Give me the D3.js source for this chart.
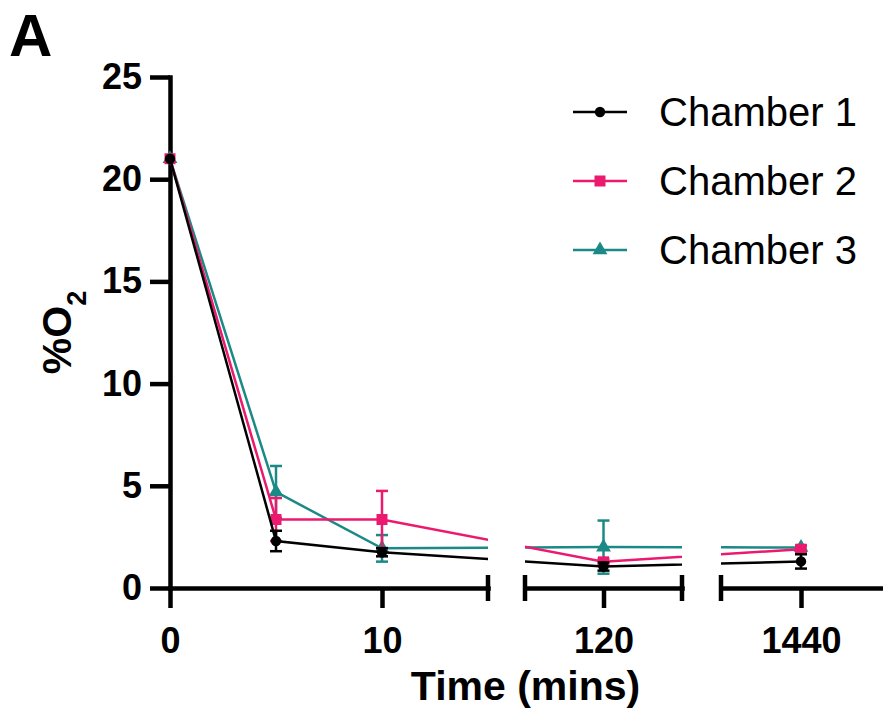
<!DOCTYPE html>
<html>
<head>
<meta charset="utf-8">
<script src="https://cdn.jsdelivr.net/npm/d3@7"></script>
<style>
  body { margin: 0; background: #fff; }
  svg text { font-family: "Liberation Sans", Arial, sans-serif; }
</style>
</head>
<body>
<svg id="chart" width="883" height="718"></svg>
<script>
/* Data */
const TIMES = [0, 5, 10, 120, 1440];
const SERIES_NAMES = ["Chamber 1", "Chamber 2", "Chamber 3"];
const CH1_MEAN = [21.0, 2.3, 1.75, 1.05, 1.3];
const CH1_ERR = [0, 0.5, 0.2, 0.2, 0.35];
const CH2_MEAN = [21.0, 3.35, 3.35, 1.28, 1.9];
const CH2_ERR = [0, 1.05, 1.4, 0.15, 0.15];
const CH3_MEAN = [21.0, 4.7, 1.94, 2.0, 1.98];
const CH3_ERR = [0, 1.27, 0.65, 1.3, 0.1];
const Y_TICKS = [0, 5, 10, 15, 20, 25];
const SEG_DOMAINS = [[0, 15], [115, 125], [1430, 1450]];
const SEG_TICKS = [[0, 10], [120], [1440]];

/* Layout constants */
const Y_TOP = 77
const Y_BOTTOM = 588
const SEG_RANGES = [[170, 488], [525, 682], [721, 881]];
const AXIS_W = 4.5
const LINE_W = 2.5
const FONT_TICK = 36
const COLORS = ["#000000", "#ec1a6e", "#1b8a86"];
const SYMBOLS = [d3.symbolCircle, d3.symbolSquare, d3.symbolTriangle];
const SYMBOL_SIZES = [85, 121, 95];

const series = SERIES_NAMES.map((name, i) => ({
  name: name,
  color: COLORS[i],
  symbol: SYMBOLS[i],
  size: SYMBOL_SIZES[i],
  values: TIMES.map((t, j) => ({
    t: t,
    v: [CH1_MEAN, CH2_MEAN, CH3_MEAN][i][j],
    e: [CH1_ERR, CH2_ERR, CH3_ERR][i][j]
  }))
}));

const svg = d3.select("#chart");

const yScale = d3.scaleLinear().domain([0, 25]).range([Y_BOTTOM, Y_TOP]);
const segScales = SEG_DOMAINS.map((d, i) => d3.scaleLinear().domain(d).range(SEG_RANGES[i]));
const xPos = (t) => {
  const k = SEG_DOMAINS.findIndex((d) => t >= d[0] && t <= d[1]);
  return segScales[k](t);
};

/* clip paths for the broken axis */
const defs = svg.append("defs");
SEG_RANGES.forEach((r, i) => {
  defs.append("clipPath").attr("id", "seg" + i)
      .append("rect")
      .attr("x", r[0]).attr("y", 0)
      .attr("width", r[1] - r[0]).attr("height", 718);
});

/* Y axis */
const yAxis = d3.axisLeft(yScale).tickValues(Y_TICKS).tickSize(20).tickSizeOuter(0).tickPadding(8);
svg.append("g")
   .attr("transform", "translate(" + SEG_RANGES[0][0] + ",0)")
   .call(yAxis);

/* X axis segments */
SEG_DOMAINS.forEach((d, i) => {
  const xAxis = d3.axisBottom(segScales[i]).tickValues(SEG_TICKS[i])
                  .tickFormat(d3.format("d"))
                  .tickSize(20).tickSizeOuter(0).tickPadding(19);
  const g = svg.append("g")
               .attr("transform", "translate(0," + Y_BOTTOM + ")")
               .call(xAxis);
  // end caps at the breaks
  const caps = [];
  if (i > 0) caps.push(d[0]);
  if (i < SEG_DOMAINS.length - 1) caps.push(d[1]);
  caps.forEach((c) => {
    g.append("line")
     .attr("x1", segScales[i](c)).attr("x2", segScales[i](c))
     .attr("y1", -13).attr("y2", 13)
     .attr("stroke", "#000").attr("stroke-width", AXIS_W);
  });
});

svg.selectAll(".domain").attr("stroke", "#000").attr("stroke-width", AXIS_W).attr("stroke-linecap", "square");
svg.selectAll(".tick line").attr("stroke", "#000").attr("stroke-width", AXIS_W);
svg.selectAll(".tick text")
   .attr("fill", "#000")
   .style("font-size", FONT_TICK + "px")
   .style("font-weight", "bold")
   .style("font-family", '"Liberation Sans", Arial, sans-serif');

/* Series: lines drawn in screen space, clipped at the gaps */
const line = d3.line().x((d) => xPos(d.t)).y((d) => yScale(d.v));
const drawOrder = [2, 1, 0];
drawOrder.forEach((k) => {
  const s = series[k];
  const g = svg.append("g");
  SEG_RANGES.forEach((r, i) => {
    g.append("path")
     .attr("d", line(s.values))
     .attr("fill", "none")
     .attr("stroke", s.color)
     .attr("stroke-width", LINE_W)
     .attr("clip-path", "url(#seg" + i + ")");
  });
  const bars = g.selectAll(".err").data(s.values.filter((d) => d.e > 0)).enter().append("g");
  bars.append("line")
      .attr("x1", (d) => xPos(d.t)).attr("x2", (d) => xPos(d.t))
      .attr("y1", (d) => yScale(d.v + d.e)).attr("y2", (d) => yScale(d.v - d.e))
      .attr("stroke", s.color).attr("stroke-width", LINE_W);
  [1, -1].forEach((sign) => {
    bars.append("line")
        .attr("x1", (d) => xPos(d.t) - 6).attr("x2", (d) => xPos(d.t) + 6)
        .attr("y1", (d) => yScale(d.v + sign * d.e)).attr("y2", (d) => yScale(d.v + sign * d.e))
        .attr("stroke", s.color).attr("stroke-width", LINE_W);
  });
  g.selectAll(".pt").data(s.values).enter().append("path")
   .attr("d", d3.symbol().type(s.symbol).size(s.size))
   .attr("transform", (d) => "translate(" + xPos(d.t) + "," + yScale(d.v) + ")")
   .attr("fill", s.color);
});

/* Legend */
const legend = svg.append("g");
series.forEach((s, i) => {
  const yy = 112 + i * 69;
  legend.append("line").attr("x1", 573).attr("x2", 627).attr("y1", yy).attr("y2", yy)
        .attr("stroke", s.color).attr("stroke-width", LINE_W);
  legend.append("path").attr("d", d3.symbol().type(s.symbol).size(s.size))
        .attr("transform", "translate(600," + yy + ")").attr("fill", s.color);
  legend.append("text").attr("x", 659).attr("y", yy + 14)
        .style("font-size", "40px").attr("fill", "#000").text(s.name);
});

/* Axis titles */
const ylab = svg.append("text")
   .attr("transform", "translate(71," + (Y_TOP + Y_BOTTOM) / 2 + ") rotate(-90)")
   .attr("text-anchor", "middle")
   .style("font-size", "41px").style("font-weight", "bold");
ylab.append("tspan").text("%O");
ylab.append("tspan").attr("baseline-shift", "sub").style("font-size", "27px").text("2");

svg.append("text")
   .attr("x", (SEG_RANGES[0][0] + SEG_RANGES[2][1]) / 2)
   .attr("y", 700)
   .attr("text-anchor", "middle")
   .style("font-size", "41px").style("font-weight", "bold")
   .text("Time (mins)");

svg.append("text")
   .attr("x", 9).attr("y", 56)
   .style("font-size", "60px").style("font-weight", "bold")
   .text("A");
</script>
</body>
</html>
